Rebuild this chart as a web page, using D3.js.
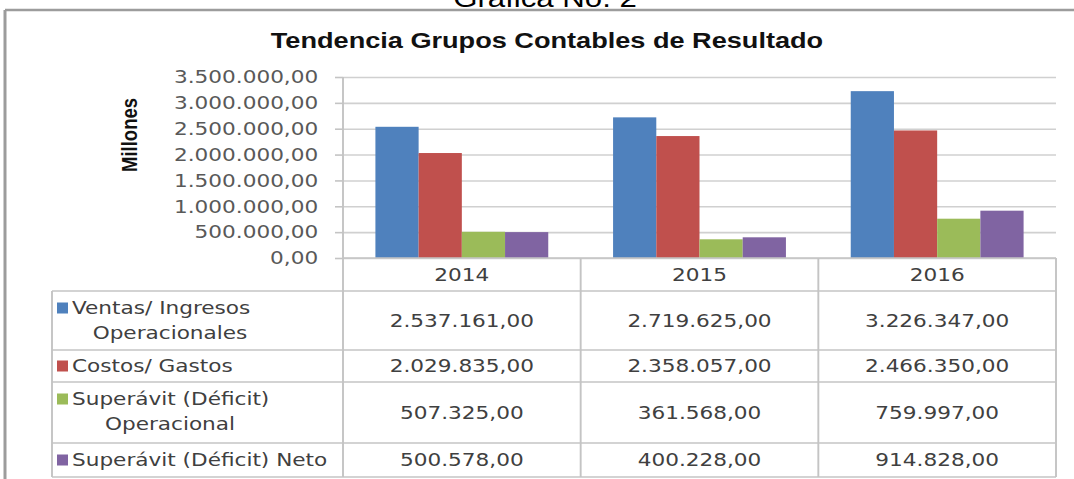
<!DOCTYPE html>
<html>
<head>
<meta charset="utf-8">
<script src="https://cdn.jsdelivr.net/npm/d3@7"></script>
<style>
  body { margin: 0; background: #fff; }
  svg { display: block; }
  text { font-family: "DejaVu Sans", Verdana, sans-serif; font-size: 18px; fill: #404040; }
  .caption { font-family: "Liberation Sans", Arial, sans-serif; font-size: 26px; fill: #000; }
  .title { font-family: "Liberation Sans", Arial, sans-serif; font-weight: bold; font-size: 22.6px; fill: #111; }
  .ylabel { font-family: "Liberation Sans", Arial, sans-serif; font-weight: bold; font-size: 18.5px; fill: #111; }
  .yaxis text { fill: #595959; }
</style>
</head>
<body>
<svg id="chart"></svg>
<script>
const years = ["2014", "2015", "2016"];
const seriesLabels = [
  ["Ventas/ Ingresos", "Operacionales"],
  ["Costos/ Gastos"],
  ["Superávit (Déficit)", "Operacional"],
  ["Superávit (Déficit) Neto"]
];
const ventas = [2537161, 2719625, 3226347];
const costos = [2029835, 2358057, 2466350];
const superavitOp = [507325, 361568, 759997];
const superavitNeto = [500578, 400228, 914828];
const yTicks = [0, 500000, 1000000, 1500000, 2000000, 2500000, 3000000, 3500000];
const colors = ["#4f81bd", "#c0504d", "#9bbb59", "#8064a2"];

const series = [ventas, costos, superavitOp, superavitNeto].map((values, i) => ({
  label: seriesLabels[i], values: values, color: colors[i]
}));

// the picture is stretched sideways, so work in a narrower box and stretch it
const K = 1.2, W = 1074, H = 479;
const px = v => v / K;
const svg = d3.select("#chart").attr("width", W).attr("height", H)
  .attr("viewBox", [0, 0, W / K, H]).attr("preserveAspectRatio", "none");

const plot = {left: px(343), right: px(1056), top: 77, bottom: 258};
const tableLeft = px(52);
const headerBottom = 291;
const rowHeights = [59, 32, 61, 34];
const rowTops = rowHeights.map((h, i) => headerBottom + d3.sum(rowHeights.slice(0, i)));
const tableBottom = headerBottom + d3.sum(rowHeights);
const lineColor = "#c4c4c4";

const fmt = d3.formatLocale({decimal: ",", thousands: ".", grouping: [3], currency: ["$", ""]}).format(",.2f");

const x0 = d3.scaleBand().domain(years).range([plot.left, plot.right]);
const x1 = d3.scaleBand().domain(d3.range(series.length)).range([0, x0.bandwidth()]).paddingOuter(0.75);
const y = d3.scaleLinear().domain([0, 3500000]).range([plot.bottom, plot.top]);

// outer frame
svg.append("line").attr("x1", px(5)).attr("x2", W / K).attr("y1", 10).attr("y2", 10)
  .attr("stroke", "#9c9c9c").attr("stroke-width", 2.5);
svg.append("line").attr("x1", px(5)).attr("x2", px(5)).attr("y1", 10).attr("y2", H)
  .attr("stroke", "#9c9c9c").attr("stroke-width", 2.5);

svg.append("text").attr("class", "caption").attr("x", px(545)).attr("y", 7)
  .attr("text-anchor", "middle").text("Gráfica No. 2");
svg.append("text").attr("class", "title").attr("x", px(547)).attr("y", 48)
  .attr("text-anchor", "middle").text("Tendencia Grupos Contables de Resultado");
svg.append("text").attr("class", "ylabel").attr("text-anchor", "middle")
  .attr("transform", `translate(${px(137)},135) rotate(-90)`).text("Millones");

// gridlines
svg.append("g").attr("transform", `translate(${plot.left},0)`)
  .call(d3.axisLeft(y).tickValues(yTicks).tickSize(-(plot.right - plot.left)).tickFormat(""))
  .call(g => g.select(".domain").remove())
  .call(g => g.selectAll("line").attr("stroke", "#d0d0d0").attr("stroke-width", 1.6));

// y axis labels
svg.append("g").attr("class", "yaxis").attr("transform", `translate(${plot.left},0)`)
  .call(d3.axisLeft(y).tickValues(yTicks).tickSizeInner(px(8)).tickSizeOuter(0).tickPadding(14).tickFormat(fmt))
  .call(g => g.select(".domain").remove())
  .call(g => g.selectAll("line").attr("stroke", lineColor).attr("stroke-width", 1.6));

// bars
const groups = svg.append("g").selectAll("g").data(years).join("g")
  .attr("transform", d => `translate(${x0(d)},0)`);
groups.selectAll("rect").data((d, yi) => series.map((s, si) => ({si: si, value: s.values[yi], color: s.color})))
  .join("rect")
  .attr("x", d => x1(d.si))
  .attr("width", x1.bandwidth())
  .attr("y", d => y(d.value))
  .attr("height", d => y(0) - y(d.value))
  .attr("fill", d => d.color);

// data table lines
const tbl = svg.append("g").attr("stroke", lineColor).attr("stroke-width", 1.6);
[headerBottom].concat(rowTops.slice(1), [tableBottom]).forEach(yy => {
  tbl.append("line").attr("x1", tableLeft).attr("x2", plot.right).attr("y1", yy).attr("y2", yy);
});
tbl.append("line").attr("x1", plot.left).attr("x2", plot.right).attr("y1", y(0)).attr("y2", y(0));
tbl.append("line").attr("x1", tableLeft).attr("x2", tableLeft).attr("y1", headerBottom).attr("y2", tableBottom);
tbl.append("line").attr("x1", plot.left).attr("x2", plot.left).attr("y1", plot.top).attr("y2", tableBottom);
years.forEach(yr => {
  const xx = x0(yr) + x0.bandwidth();
  tbl.append("line").attr("x1", xx).attr("x2", xx).attr("y1", y(0)).attr("y2", tableBottom);
});

// header years
svg.append("g").selectAll("text").data(years).join("text")
  .attr("x", d => x0(d) + x0.bandwidth() / 2)
  .attr("y", (y(0) + headerBottom) / 2)
  .attr("dy", "0.36em")
  .attr("text-anchor", "middle")
  .text(d => d);

// legend cells and values
series.forEach((s, i) => {
  const top = rowTops[i], h = rowHeights[i];
  const line1 = s.label.length > 1 ? top + 17 : top + h / 2;
  svg.append("rect").attr("x", px(57)).attr("y", line1 - 5.5)
    .attr("width", px(11)).attr("height", 11).attr("fill", s.color);
  svg.append("text").attr("x", px(72)).attr("y", line1).attr("dy", "0.36em").text(s.label[0]);
  if (s.label.length > 1) {
    svg.append("text").attr("x", px(170)).attr("y", top + 42).attr("dy", "0.36em")
      .attr("text-anchor", "middle").text(s.label[1]);
  }
  svg.append("g").selectAll("text").data(s.values).join("text")
    .attr("x", (d, j) => x0(years[j]) + x0.bandwidth() / 2)
    .attr("y", top + h / 2)
    .attr("dy", "0.36em")
    .attr("text-anchor", "middle")
    .text(d => fmt(d));
});
</script>
</body>
</html>
